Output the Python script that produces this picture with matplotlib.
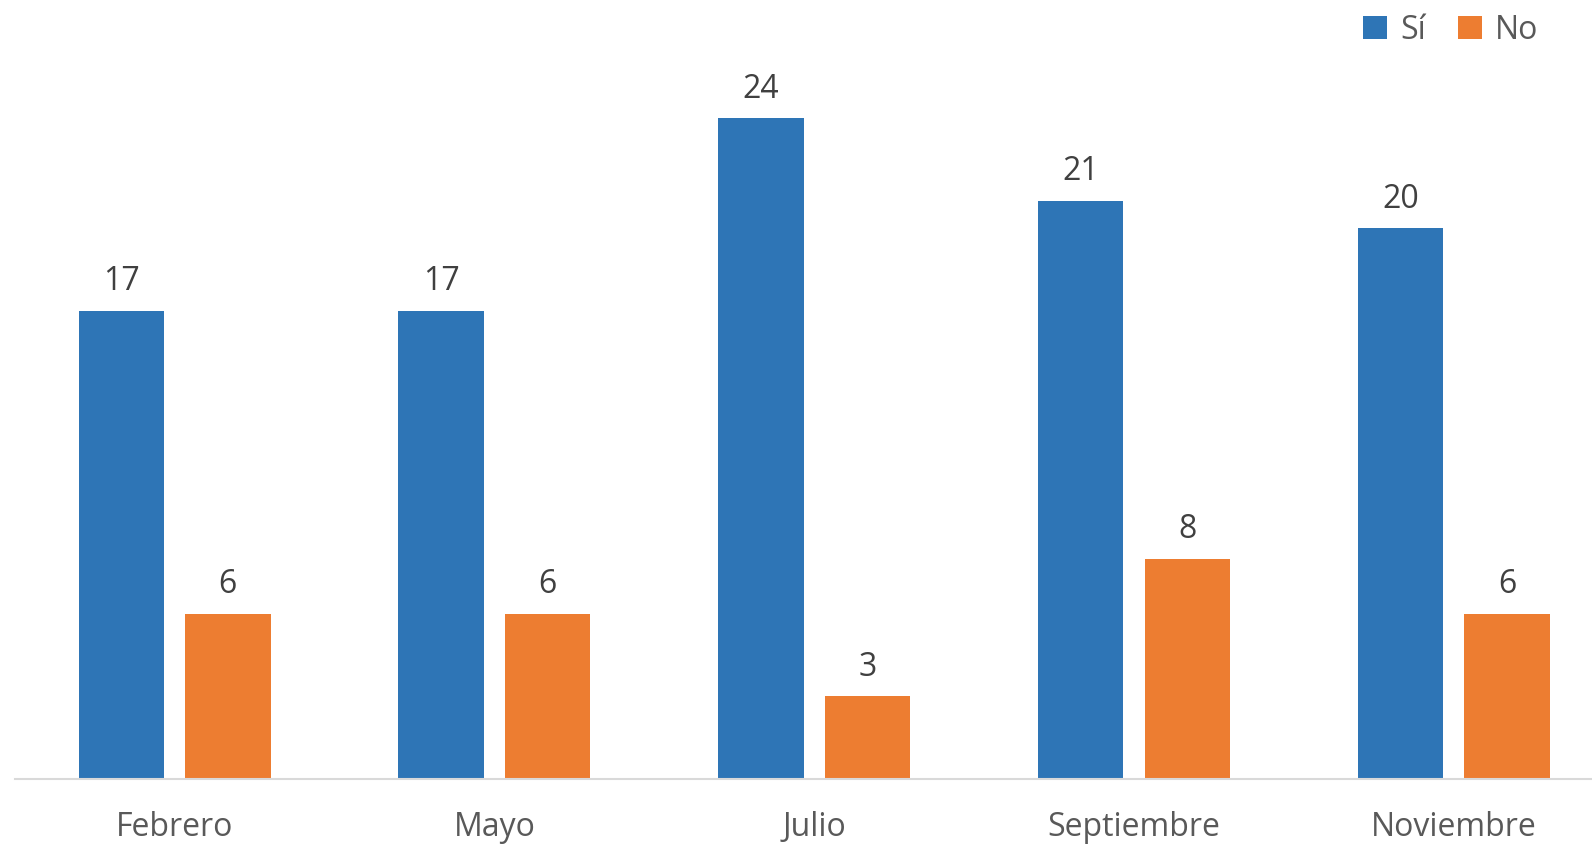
import matplotlib.pyplot as plt
import numpy as np

months = ["Febrero", "Mayo", "Julio", "Septiembre", "Noviembre"]
si_values = [17, 17, 24, 21, 20]
no_values = [6, 6, 3, 8, 6]

BLUE = "#2E75B6"
ORANGE = "#ED7D31"
TEXT = "#404040"

plt.rcParams["font.family"] = ["Open Sans", "DejaVu Sans"]

fig = plt.figure(figsize=(15.92, 8.46), dpi=100)
ax = fig.add_axes([0.0092, 0.0796, 1.0044, 0.9204])

x = np.arange(len(months))
width = 0.267
offset = 0.1667

bars_si = ax.bar(x - offset, si_values, width, color=BLUE, label="Sí")
bars_no = ax.bar(x + offset, no_values, width, color=ORANGE, label="No")

for bars in (bars_si, bars_no):
    for b in bars:
        ax.annotate(
            f"{b.get_height():g}",
            (b.get_x() + b.get_width() / 2, b.get_height()),
            xytext=(0, 9),
            textcoords="offset points",
            ha="center",
            va="bottom",
            fontsize=23,
            color=TEXT,
        )

ax.set_xlim(-0.5, len(months) - 0.5)
ax.set_ylim(0, 28.3)
ax.set_xticks(x)
ax.set_xticklabels(months, fontsize=23, color="#595959")
ax.tick_params(axis="x", length=0, pad=23)
ax.set_yticks([])
for side in ("top", "right", "left"):
    ax.spines[side].set_visible(False)
ax.spines["bottom"].set_color("#D9D9D9")
ax.spines["bottom"].set_linewidth(1.5)

fig.legend(
    loc="upper right",
    bbox_to_anchor=(0.984, 1.018),
    ncol=2,
    frameon=False,
    fontsize=23,
    labelcolor="#595959",
    handlelength=0.75,
    handleheight=0.75,
    handletextpad=0.4,
    columnspacing=1.0,
)

fig.savefig("out.png", dpi=100)
